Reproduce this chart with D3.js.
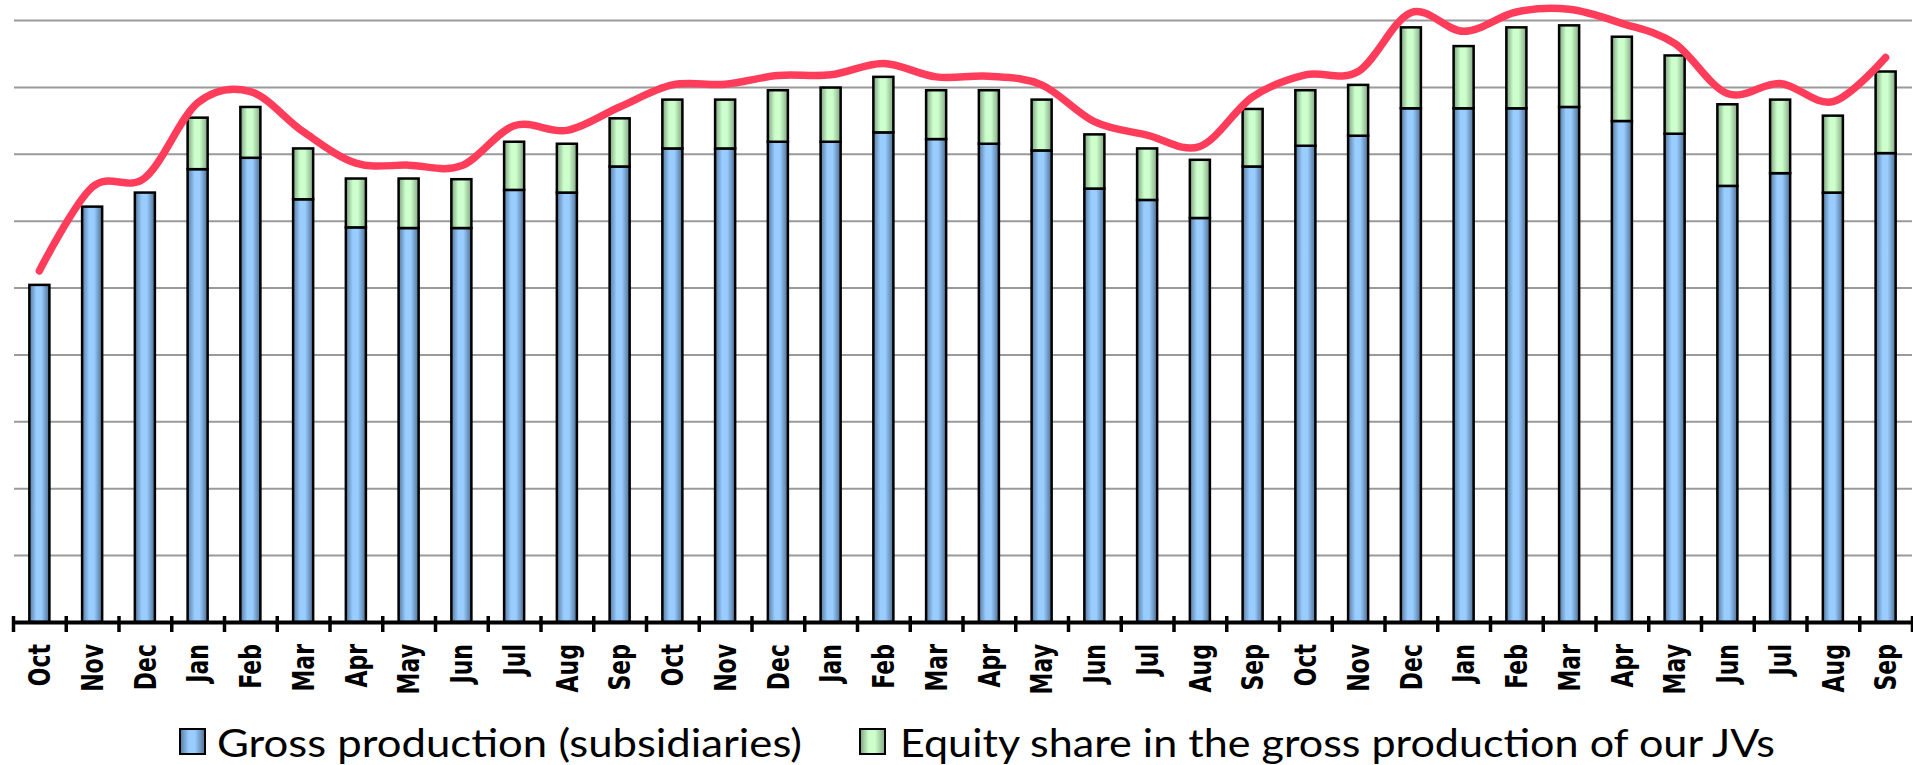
<!DOCTYPE html>
<html>
<head>
<meta charset="utf-8">
<script src="https://cdn.jsdelivr.net/npm/d3@7"></script>
<style>
  html, body { margin: 0; padding: 0; background: #ffffff; }
  svg { display: block; }
</style>
</head>
<body>
<script>
// ---------- DATA ----------
const months = ["Oct","Nov","Dec","Jan","Feb","Mar","Apr","May","Jun","Jul","Aug","Sep",
                "Oct","Nov","Dec","Jan","Feb","Mar","Apr","May","Jun","Jul","Aug","Sep",
                "Oct","Nov","Dec","Jan","Feb","Mar","Apr","May","Jun","Jul","Aug","Sep"];
const grossSubsidiaries = [50.4,62.1,64.2,67.7,69.4,63.2,59.0,58.9,58.9,64.6,64.2,68.1,
                           70.8,70.8,71.8,71.8,73.2,72.2,71.5,70.5,64.8,63.1,60.4,68.1,
                           71.2,72.7,76.8,76.8,76.8,77.0,74.9,73.0,65.2,67.1,64.2,70.1];
const equityShareJVs   = [0,0,0,7.7,7.6,7.6,7.3,7.4,7.3,7.2,7.3,7.2,
                          7.3,7.3,7.7,8.1,8.3,7.3,8.0,7.6,8.1,7.7,8.7,8.6,
                          8.3,7.6,12.1,9.3,12.1,12.2,12.6,11.7,12.2,11.0,11.5,12.2];
const lineValues       = [52.5,65.0,66.4,77.6,79.3,73.3,68.6,68.3,68.2,74.2,73.5,77.0,
                          80.3,80.4,81.7,81.8,83.5,81.5,81.6,80.3,74.8,72.8,71.1,78.5,
                          81.8,82.3,91.1,88.3,91.2,91.6,89.5,86.5,79.0,80.5,77.8,84.4];
const gridValues = [10,20,30,40,50,60,70,80,90];
const legendLabels = ["Gross production (subsidiaries)", "Equity share in the gross production of our JVs"];

// ---------- LAYOUT ----------
const W = 1913, H = 765;
const svg = d3.select("body").append("svg").attr("width", W).attr("height", H);

const defs = svg.append("defs");
function grad(id, dark1, light, dark2) {
  const g = defs.append("linearGradient").attr("id", id)
    .attr("x1", "0%").attr("x2", "100%").attr("y1", "0%").attr("y2", "0%");
  g.append("stop").attr("offset", "0%").attr("stop-color", dark1);
  g.append("stop").attr("offset", "35%").attr("stop-color", light);
  g.append("stop").attr("offset", "60%").attr("stop-color", light);
  g.append("stop").attr("offset", "100%").attr("stop-color", dark2);
}
grad("gBlue", "#557a9f", "#99ccff", "#4c6e92");
grad("gGreen", "#7fa27f", "#ccffcc", "#83a683");

const x = d3.scaleBand().domain(d3.range(months.length)).range([13, 1912])
  .paddingInner(0.62).paddingOuter(0.31);
const tickScale = d3.scaleLinear().domain([0, months.length]).range([13, 1912]);
const y = d3.scaleLinear().domain([0, 90]).range([622, 20]);

// gridlines
const grid = svg.append("g").attr("transform", "translate(14,0)")
  .call(d3.axisLeft(y).tickValues(gridValues).tickSize(-(1912 - 14)).tickFormat(""));
grid.select(".domain").remove();
grid.selectAll(".tick line").attr("stroke", "#9a9a9a").attr("stroke-width", 2);

// bars
const bars = svg.append("g");
months.forEach((m, i) => {
  const b = grossSubsidiaries[i], e = equityShareJVs[i];
  bars.append("rect")
    .attr("x", x(i)).attr("width", x.bandwidth())
    .attr("y", y(b)).attr("height", y(0) - y(b))
    .attr("fill", "url(#gBlue)").attr("stroke", "#000").attr("stroke-width", 2.5);
  if (e > 0) {
    bars.append("rect")
      .attr("x", x(i)).attr("width", x.bandwidth())
      .attr("y", y(b + e)).attr("height", y(b) - y(b + e))
      .attr("fill", "url(#gGreen)").attr("stroke", "#000").attr("stroke-width", 2.5);
  }
});

// x axis
const ax = svg.append("g").attr("transform", `translate(0,${y(0)})`)
  .call(d3.axisBottom(tickScale).tickValues(d3.range(months.length + 1))
    .tickSize(10).tickSizeOuter(0).tickFormat(""));
ax.select(".domain").attr("stroke", "#000").attr("stroke-width", 4);
ax.selectAll(".tick line").attr("y1", -6).attr("y2", 10)
  .attr("stroke", "#000").attr("stroke-width", 3.5);

// month labels
svg.append("g").selectAll("text").data(months).join("text")
  .attr("transform", (d, i) => `translate(${x(i) + x.bandwidth() / 2},644) scale(1.4,1) rotate(-90)`)
  .attr("text-anchor", "end").attr("dy", "0.35em")
  .attr("font-family", "'DejaVu Sans', Verdana, sans-serif")
  .attr("font-weight", "bold").attr("font-size", 22).attr("fill", "#000")
  .text(d => d);

// smoothed line
const line = d3.line()
  .x((d, i) => x(i) + x.bandwidth() / 2)
  .y(d => y(d))
  .curve(d3.curveCardinal.tension(0));
svg.append("path").datum(lineValues)
  .attr("d", line).attr("fill", "none")
  .attr("stroke", "#ff3d5b").attr("stroke-width", 7.5)
  .attr("stroke-linecap", "round").attr("stroke-linejoin", "round");

// legend
const legend = svg.append("g");
const legendItems = [
  { label: legendLabels[0], fill: "url(#gBlue)", rx: 180, tx: 217, len: 585 },
  { label: legendLabels[1], fill: "url(#gGreen)", rx: 860, tx: 900, len: 875 }
];
legendItems.forEach(it => {
  legend.append("rect").attr("x", it.rx).attr("y", 729).attr("width", 25).attr("height", 25)
    .attr("fill", it.fill).attr("stroke", "#000").attr("stroke-width", 2);
  legend.append("text").attr("x", it.tx).attr("y", 757)
    .attr("font-family", "Lato, 'Open Sans', sans-serif").attr("font-size", 38)
    .attr("textLength", it.len).attr("lengthAdjust", "spacingAndGlyphs")
    .attr("fill", "#000").text(it.label);
});
</script>
</body>
</html>
